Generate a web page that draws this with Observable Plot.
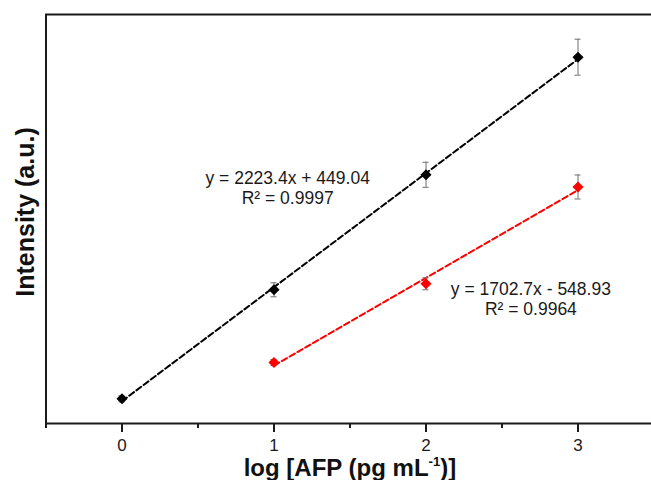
<!DOCTYPE html>
<html><head><meta charset="utf-8">
<script src="https://cdn.jsdelivr.net/npm/d3@7"></script>
<script src="https://cdn.jsdelivr.net/npm/@observablehq/plot@0.6"></script>
<style>
body{margin:0;background:#fff;overflow:hidden}
#xt{font:bold 24px "Liberation Sans",Arial,sans-serif;text-align:center;padding-left:49px;width:602px;line-height:24px;color:#111}
sup{font-size:0.55em;vertical-align:0.75em;line-height:0}
</style></head><body><div id="chart"></div><div id="xt">log [AFP (pg mL<sup>-1</sup>)]</div>
<script>
const logConc = [0, 1, 2, 3];
const blackY = [483, 2615, 4865, 7165];
const blackErr = [60, 137, 245, 352];
const redX = [1, 2, 3];
const redY = [1193, 2733, 4626];
const redErr = [60, 117, 235];
const xTicks = [0, 1, 2, 3];
const xMinor = [-0.5, 0.5, 1.5, 2.5, 3.5];
const eqBlack = ["y = 2223.4x + 449.04", "R² = 0.9997"];
const eqBlackX = [1.09, 1.09];
const eqBlackY = [4790, 4401];
const eqRed = ["y = 1702.7x - 548.93", "R² = 0.9964"];
const eqRedX = [2.69, 2.69];
const eqRedY = [2631, 2230];
const yTitle = "Intensity (a.u.)";

const black = logConc.map((x, i) => ({x, y: blackY[i], e: blackErr[i]}));
const red = redX.map((x, i) => ({x, y: redY[i], e: redErr[i]}));
const cap = 0.02;

function errMarks(data) {
  return [
    Plot.ruleX(data, {x: "x", y1: d => d.y - d.e, y2: d => d.y + d.e, stroke: "#6e6e6e", strokeWidth: 1}),
    Plot.ruleY(data, {y: d => d.y + d.e, x1: d => d.x - cap, x2: d => d.x + cap, stroke: "#6e6e6e", strokeWidth: 1}),
    Plot.ruleY(data, {y: d => d.y - d.e, x1: d => d.x - cap, x2: d => d.x + cap, stroke: "#6e6e6e", strokeWidth: 1})
  ];
}

const chart = Plot.plot({
  width: 651, height: 456,
  marginTop: 14, marginBottom: 33, marginLeft: 45, marginRight: 0,
  style: {fontFamily: "'Liberation Sans', Arial, sans-serif", fontSize: "15px", color: "#1a1a1a", background: "#fff"},
  x: {domain: [-0.5, 3.5], range: [45.5, 653.5], axis: null},
  y: {domain: [0, 8000], range: [423, 14], axis: null},
  marks: [
    Plot.linearRegressionY(black, {x: "x", y: "y", stroke: "#000", strokeWidth: 2, strokeDasharray: "6,3", ci: 0}),
    Plot.linearRegressionY(red, {x: "x", y: "y", stroke: "#ff0000", strokeWidth: 2, strokeDasharray: "6,3", ci: 0}),
    ...errMarks(black),
    ...errMarks(red),
    Plot.dot(black, {x: "x", y: "y", symbol: "diamond2", r: 5, fill: "#000", stroke: "none"}),
    Plot.dot(red, {x: "x", y: "y", symbol: "diamond2", r: 5, fill: "#ff0000", stroke: "none"}),
    Plot.text(eqBlack, {x: eqBlackX, y: eqBlackY, text: d => d, fontSize: 17.5, fill: "#1a1a1a"}),
    Plot.text(eqRed, {x: eqRedX, y: eqRedY, text: d => d, fontSize: 17.5, fill: "#1a1a1a"}),
    Plot.ruleY([8000], {stroke: "#1a1a1a", strokeWidth: 2}),
    Plot.ruleX([-0.5], {stroke: "#1a1a1a", strokeWidth: 2}),
    Plot.ruleY([0], {stroke: "#1a1a1a", strokeWidth: 2}),
    Plot.ruleX(xTicks, {x: d => d, y1: 0, y2: 0, insetBottom: -9, stroke: "#1a1a1a", strokeWidth: 2}),
    Plot.ruleX(xMinor, {x: d => d, y1: 0, y2: 0, insetBottom: -5, stroke: "#1a1a1a", strokeWidth: 2}),
    Plot.text(xTicks, {x: d => d, y: 0, dy: 22, lineAnchor: "middle", text: d => String(d), fontSize: 17, fill: "#1a1a1a"}),
    Plot.text([yTitle], {frameAnchor: "left", textAnchor: "middle", rotate: -90, dx: -20, dy: -7, fontSize: 25, fontWeight: "bold", fill: "#111"})
  ]
});
document.getElementById("chart").appendChild(chart);
</script></body></html>
